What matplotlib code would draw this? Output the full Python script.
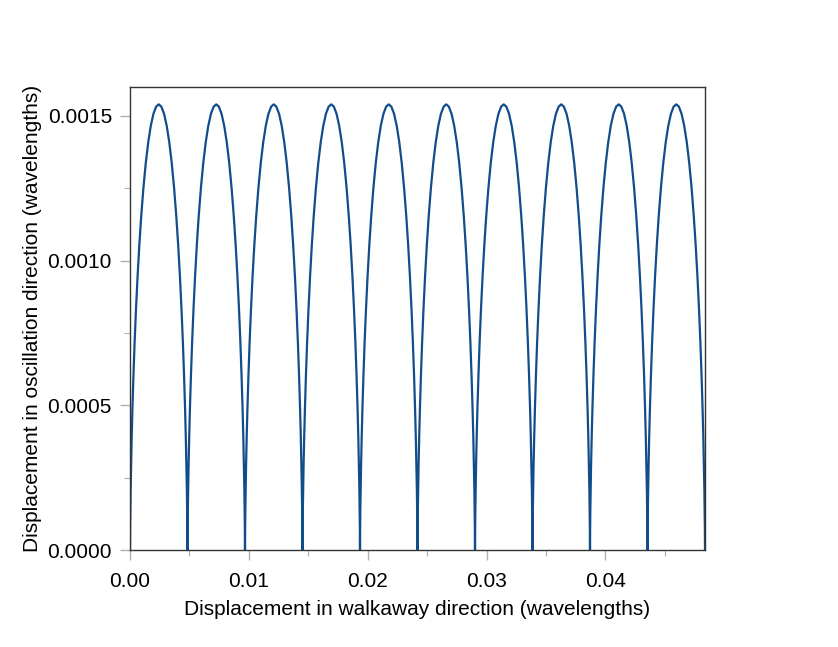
import matplotlib
matplotlib.use("Agg")
import matplotlib.pyplot as plt
import numpy as np
from matplotlib.ticker import MultipleLocator

# One half of an arch (offset from arch start, in wavelengths)
half_arch_x = [0.0, 0.43e-6, 3.45e-6, 11.6e-6, 27.2e-6, 52.6e-6, 89.8e-6, 140.6e-6,
               206.3e-6, 288.2e-6, 386.9e-6, 502.9e-6, 636.1e-6, 786.2e-6, 952.3e-6,
               1133.4e-6, 1327.9e-6, 1534.1e-6, 1749.9e-6, 1973.1e-6, 2201.3e-6, 2419.0e-6]
half_arch_y = [0.0, 8.65e-6, 34.4e-6, 76.7e-6, 134.5e-6, 206.6e-6, 291.4e-6, 386.9e-6,
               491.0e-6, 601.4e-6, 715.5e-6, 830.9e-6, 944.9e-6, 1055.0e-6, 1158.7e-6,
               1253.7e-6, 1337.8e-6, 1409.1e-6, 1466.1e-6, 1507.5e-6, 1532.3e-6, 1540.0e-6]
arch_width = 0.004838
arch_starts = [0.0, 0.004838, 0.009676, 0.014514, 0.019352, 0.02419,
               0.029028, 0.033866, 0.038704, 0.043542]

x_ticks = [0.00, 0.01, 0.02, 0.03, 0.04]
y_ticks = [0.0000, 0.0005, 0.0010, 0.0015]

hx = np.array(half_arch_x)
hy = np.array(half_arch_y)
arch_x = np.concatenate([hx, (arch_width - hx[::-1])[1:]])
arch_y = np.concatenate([hy, hy[::-1][1:]])
xs = np.concatenate([s + arch_x for s in arch_starts])
ys = np.concatenate([arch_y for _ in arch_starts])

plt.rcParams['font.family'] = ['Liberation Sans', 'DejaVu Sans']
fig = plt.figure(figsize=(8.38, 6.47), dpi=100)
ax = fig.add_axes([130/838, 1-550/647, (705-130)/838, (550-87)/647])
ax.plot(xs, ys, color='#124d8b', lw=1.6)
ax.set_xlim(0, arch_starts[-1] + arch_width)
ax.set_ylim(0, 0.0016)
ax.set_xticks(x_ticks)
ax.set_xticklabels([f"{v:.2f}" for v in x_ticks])
ax.set_yticks(y_ticks)
ax.set_yticklabels([f"{v:.4f}" for v in y_ticks])
ax.xaxis.set_minor_locator(MultipleLocator(0.005))
ax.yaxis.set_minor_locator(MultipleLocator(0.00025))
ax.tick_params(which='major', length=7, width=1, color='#b0b0b0', labelsize=15)
ax.tick_params(axis='x', which='major', pad=9)
ax.tick_params(axis='y', which='major', pad=6)
ax.tick_params(which='minor', length=4, width=0.8, color='#b0b0b0')
for s in ax.spines.values():
    s.set_color('#333333')
    s.set_linewidth(1.0)
ax.set_xlabel('Displacement in walkaway direction (wavelengths)', fontsize=15, labelpad=6)
ax.set_ylabel('Displacement in oscillation direction (wavelengths)', fontsize=15, labelpad=4)
fig.savefig('out.png', dpi=100)
